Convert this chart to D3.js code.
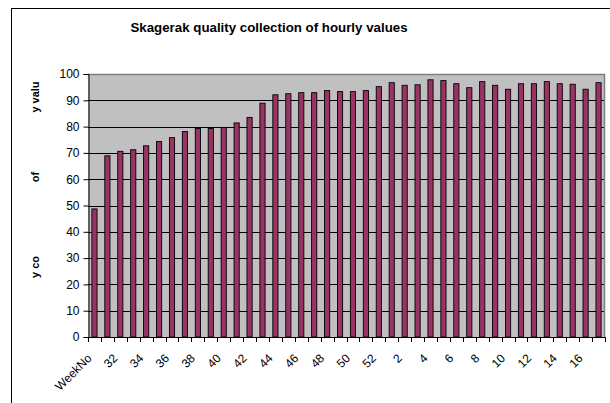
<!DOCTYPE html>
<html>
<head>
<meta charset="utf-8">
<script src="https://cdn.jsdelivr.net/npm/d3@7"></script>
<style>
  html, body { margin: 0; padding: 0; background: #fff; }
  svg { display: block; font-family: "Liberation Sans", Arial, sans-serif; }
</style>
</head>
<body>
<svg id="chart" width="610" height="403"></svg>
<script>
// Week labels: a header cell, weeks 31–52, then weeks 1–17 of the next year
const weeks = ["WeekNo",
  "31","32","33","34","35","36","37","38","39","40","41","42","43","44","45","46","47","48","49","50","51","52",
  "1","2","3","4","5","6","7","8","9","10","11","12","13","14","15","16","17"];

// Share of hourly values passing quality control (%)
const quality = [48.7,
  68.9, 70.6, 71.2, 72.7, 74.3, 75.8, 78.1, 79.3, 79.3, 79.7, 81.4, 83.5, 88.9, 92.1, 92.5, 92.9, 92.9, 93.7, 93.3, 93.3, 93.7, 95.2,
  96.7, 95.7, 95.9, 97.8, 97.5, 96.3, 94.8, 97.1, 95.7, 94.2, 96.3, 96.3, 97.1, 96.3, 96.1, 94.2, 96.7];

const yTicks = [0, 10, 20, 30, 40, 50, 60, 70, 80, 90, 100];
const titleText = "Skagerak quality collection of hourly values";
const yTitleParts = ["y co", "of", "y valu"];

const svg = d3.select("#chart");
const plot = { left: 88, right: 605, top: 74, bottom: 337 };

// Outer chart frame (runs past the right and bottom edges)
svg.append("rect")
  .attr("x", 11.5).attr("y", 8.5)
  .attr("width", 640).attr("height", 440)
  .attr("fill", "#fff").attr("stroke", "#000").attr("stroke-width", 1);

svg.append("text")
  .attr("x", 269).attr("y", 32)
  .attr("text-anchor", "middle")
  .attr("font-size", 13.3).attr("font-weight", "bold")
  .text(titleText);

const x = d3.scaleBand()
  .domain(weeks)
  .range([plot.left, plot.right])
  .paddingInner(0.6)
  .paddingOuter(0.3);

const y = d3.scaleLinear()
  .domain([0, 100])
  .range([plot.bottom, plot.top]);

// Plot background
svg.append("rect")
  .attr("x", plot.left).attr("y", plot.top)
  .attr("width", plot.right - plot.left).attr("height", plot.bottom - plot.top)
  .attr("fill", "#c0c0c0");

// Horizontal gridlines
svg.append("g")
  .selectAll("line")
  .data(yTicks.filter(t => t > 0 && t < 100))
  .join("line")
  .attr("x1", plot.left).attr("x2", plot.right)
  .attr("y1", d => Math.round(y(d)) + 0.5).attr("y2", d => Math.round(y(d)) + 0.5)
  .attr("stroke", "#000").attr("stroke-width", 1);

// Plot border (top/right)
svg.append("path")
  .attr("d", `M${plot.left},${plot.top + 0.5}H${plot.right - 0.5}V${plot.bottom}`)
  .attr("fill", "none").attr("stroke", "#808080").attr("stroke-width", 1.5);

// Bars
svg.append("g")
  .selectAll("rect")
  .data(weeks.map((w, i) => ({ week: w, value: quality[i] })))
  .join("rect")
  .attr("x", d => x(d.week))
  .attr("y", d => y(d.value))
  .attr("width", x.bandwidth())
  .attr("height", d => y(0) - y(d.value))
  .attr("fill", "#993366")
  .attr("stroke", "#000").attr("stroke-width", 0.9);

// Y axis
const yAxis = svg.append("g")
  .attr("transform", `translate(${plot.left + 0.5},0)`)
  .call(d3.axisLeft(y).tickValues(yTicks).tickSize(5).tickPadding(4).tickFormat(d3.format("d")));
yAxis.select(".domain").attr("stroke", "#000");
yAxis.selectAll(".tick line").attr("stroke", "#000");
yAxis.selectAll("text").attr("font-size", 12).attr("fill", "#000")
  .attr("font-family", "Liberation Sans, Arial, sans-serif");

// X axis: ticks at category boundaries, labels on every other category
const step = x.step();
const boundaries = d3.range(weeks.length + 1).map(i => plot.left + i * step);
const xAxisG = svg.append("g");
xAxisG.append("line")
  .attr("x1", plot.left).attr("x2", plot.right)
  .attr("y1", plot.bottom + 0.5).attr("y2", plot.bottom + 0.5)
  .attr("stroke", "#000");
xAxisG.selectAll("line.tk")
  .data(boundaries)
  .join("line")
  .attr("class", "tk")
  .attr("x1", d => Math.round(d) + 0.5).attr("x2", d => Math.round(d) + 0.5)
  .attr("y1", plot.bottom).attr("y2", plot.bottom + 5)
  .attr("stroke", "#000");
xAxisG.selectAll("text")
  .data(weeks.filter((w, i) => i % 2 === 0))
  .join("text")
  .attr("transform", d => `translate(${x(d) + x.bandwidth() / 2 - 5},${plot.bottom + 19}) rotate(-45)`)
  .attr("text-anchor", "end")
  .attr("dy", "0.35em")
  .attr("font-size", 12)
  .text(d => d);

// Y axis title pieces
const yTitleY = [267, 177, 97];
svg.append("g")
  .selectAll("text")
  .data(yTitleParts)
  .join("text")
  .attr("transform", (d, i) => `translate(39,${yTitleY[i]}) rotate(-90)`)
  .attr("text-anchor", "middle")
  .attr("font-size", 11).attr("font-weight", "bold")
  .text(d => d);
</script>
</body>
</html>
